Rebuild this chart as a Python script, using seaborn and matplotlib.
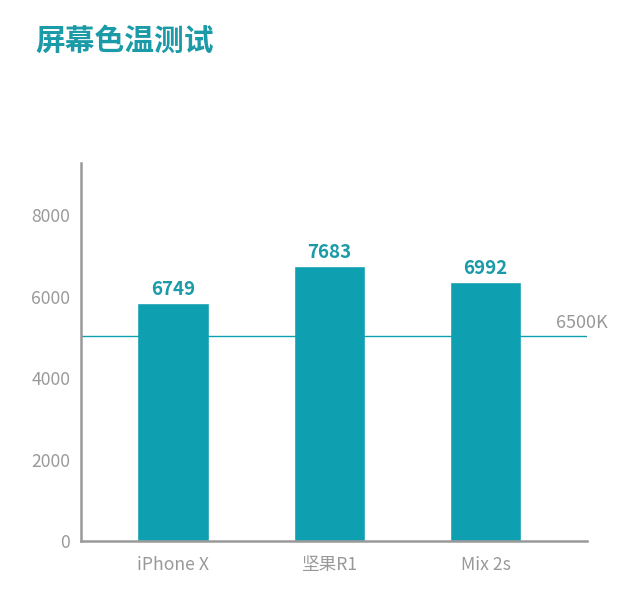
import matplotlib
matplotlib.use("Agg")
import matplotlib.pyplot as plt
import seaborn as sns
import pandas as pd

# Data (as drawn in the reference)
categories = ["iPhone X", "坚果R1", "Mix 2s"]
bar_heights = [5840, 6750, 6360]          # bar heights on the drawn axis
value_labels = ["6749", "7683", "6992"]   # printed labels above bars
ref_line_value = 5030
ref_line_label = "6500K"
y_ticks = [0, 2000, 4000, 6000, 8000]
title = "屏幕色温测试"

sns.set_theme(style="white")
plt.rcParams['font.family'] = ['Noto Sans CJK SC', 'DejaVu Sans']

TEAL = "#0E9FB0"
TITLE_C = "#1B9AA8"
GRAY = "#999999"

df = pd.DataFrame({"cat": categories, "val": bar_heights})

fig = plt.figure(figsize=(6.4, 6.0), dpi=100)
ax = fig.add_axes([0.127, 0.098, 0.79, 0.63])

sns.barplot(data=df, x="cat", y="val", color=TEAL, saturation=1, width=0.46, ax=ax)

ax.set_xlim(-0.59, 2.65)
ax.set_ylim(0, 9280)
ax.set_yticks(y_ticks)
ax.set_xlabel("")
ax.set_ylabel("")

ax.axhline(ref_line_value, color=TEAL, lw=1, zorder=1)
ax.text(2.45, ref_line_value + 110, ref_line_label, color=GRAY, fontsize=13,
        ha="left", va="bottom", clip_on=False)

for i, (h, lab) in enumerate(zip(bar_heights, value_labels)):
    ax.text(i, h + 110, lab, color=TITLE_C, fontsize=13.5, fontweight="bold",
            ha="center", va="bottom")

for s in ["top", "right"]:
    ax.spines[s].set_visible(False)
for s in ["left", "bottom"]:
    ax.spines[s].set_color(GRAY)
    ax.spines[s].set_linewidth(1.8)

ax.tick_params(axis="y", colors=GRAY, labelsize=12.7, length=0, pad=8)
ax.tick_params(axis="x", colors=GRAY, labelsize=12.7, length=0, pad=11)
for t in ax.get_xticklabels() + ax.get_yticklabels():
    t.set_color(GRAY)

fig.text(35 / 640, 1 - 41 / 600, title, color=TITLE_C, fontsize=21.4,
         fontweight="bold", ha="left", va="center")

fig.savefig("out.png", dpi=100, facecolor="white")
